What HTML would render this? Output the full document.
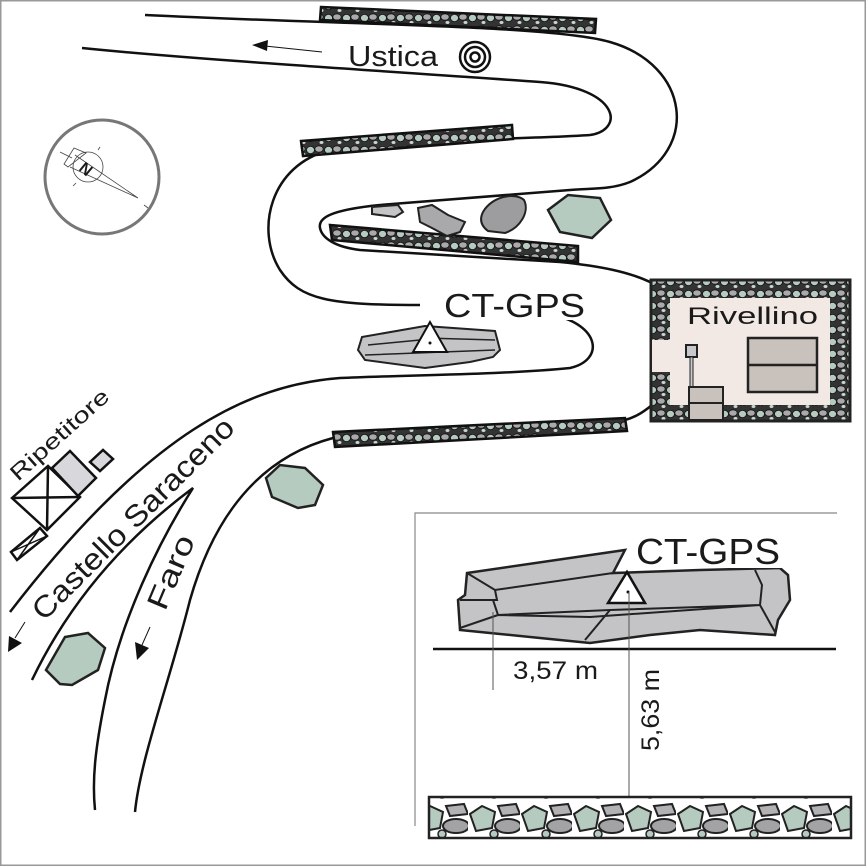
<!DOCTYPE html>
<html><head><meta charset="utf-8"><style>
html,body{margin:0;padding:0;background:#fff}
svg{display:block}
text{font-family:"Liberation Sans",sans-serif;fill:#1a1a1a}
</style></head><body>
<svg width="866" height="866" viewBox="0 0 866 866" xmlns="http://www.w3.org/2000/svg">
<defs>
<pattern id="st" width="18" height="12" patternUnits="userSpaceOnUse">
<rect width="18" height="12" fill="#333"/>
<ellipse cx="4.5" cy="6" rx="4" ry="3.6" fill="#b5cbc0" stroke="#111" stroke-width="0.8"/>
<ellipse cx="13" cy="5" rx="4.2" ry="3.2" fill="#a9a9ab" stroke="#111" stroke-width="0.8"/>
<ellipse cx="15.5" cy="10.5" rx="2" ry="1.5" fill="#c8d8cf"/>
</pattern>
<pattern id="st2" width="52" height="40" patternUnits="userSpaceOnUse">
<rect width="52" height="40" fill="#fff"/>
<polygon points="2,14 14,6 27,12 24,28 8,31" fill="#b5cbc0" stroke="#222" stroke-width="2"/>
<ellipse cx="40" cy="26" rx="13" ry="7" fill="#a3a3a5" stroke="#222" stroke-width="2"/>
<polygon points="30,6 48,4 52,14 34,16" fill="#b2b2b4" stroke="#222" stroke-width="2"/>
<circle cx="26" cy="34" r="4" fill="#b5cbc0" stroke="#222" stroke-width="1.5"/>
</pattern>
</defs>
<rect x="0.5" y="0.5" width="865" height="865" fill="#fff" stroke="#999" stroke-width="2"/>

<!-- roads -->
<g fill="none" stroke="#111" stroke-width="2.5">
<path d="M145,15 C350,25 550,25 610,42 C690,65 700,150 630,182 C610,190 590,188 570,190 L380,205 C330,210 318,218 320,228 C322,238 335,247 360,250 L560,262 C600,266 630,272 652,283"/>
<path d="M82,48 C200,60 400,72 540,82 C620,88 625,130 590,135 C520,140 400,138 330,150 C270,165 255,230 280,270 C300,300 330,305 420,305"/>
<path d="M553,315 C600,325 605,360 570,368 C500,375 400,375 340,378 C250,385 150,430 10,612"/>
<path d="M652,405 C640,415 632,418 625,420"/>
<path d="M333,438 C250,460 210,530 190,600 C170,680 140,760 135,812"/>
<path d="M32,680 C80,580 150,520 193,488 C160,540 120,620 105,700 C95,750 92,780 95,810"/>
</g>

<!-- walls -->
<g stroke="#111" stroke-width="2.5" fill="url(#st)">
<polygon points="321,7 596,19 595,33 320,20"/>
<polygon points="301,141 512,125 513,139 303,156"/>
<polygon points="330,225 578,246 578,262 332,240"/>
<polygon points="333,432 625,418 627,431 335,447"/>
</g>

<!-- rocks -->
<path d="M372,207 L398,205 403,212 395,217 372,214 Z" fill="#c4c4c6" stroke="#222" stroke-width="2"/>
<path d="M418,208 L432,205 448,215 465,222 460,232 447,236 432,228 420,222 Z" fill="#a9a9ab" stroke="#222" stroke-width="2"/>
<path d="M483,212 C492,196 515,192 524,200 C530,212 520,228 505,233 L488,231 C480,225 480,218 483,212Z" fill="#9d9d9f" stroke="#222" stroke-width="2"/>
<polygon points="548,210 568,195 600,198 611,220 592,238 560,232" fill="#b5cbc0" stroke="#222" stroke-width="2.5"/>
<polygon points="266,478 280,465 305,468 323,485 315,505 298,508 272,497" fill="#b5cbc0" stroke="#222" stroke-width="2.5"/>
<polygon points="46,670 65,637 88,633 105,648 98,670 72,685 60,684" fill="#b5cbc0" stroke="#222" stroke-width="2.5"/>

<!-- upper CT-GPS rock -->
<path d="M362,337 L425,326 495,331 500,350 493,357 470,362 425,368 365,360 358,350 Z" fill="#c4c4c6" stroke="#222" stroke-width="2"/>
<path d="M368,345 L420,340 M365,355 L495,350 M425,338 L495,340" stroke="#222" stroke-width="1.5" fill="none"/>
<polygon points="413,352 430,322 447,352" fill="#fff" stroke="#111" stroke-width="2"/>
<circle cx="430" cy="343" r="1.5" fill="#111"/>
<rect x="440" y="288" width="150" height="32" fill="#fff"/>
<text x="444" y="317" font-size="33" textLength="141" lengthAdjust="spacingAndGlyphs">CT-GPS</text>

<!-- Ustica -->
<text x="348" y="66" font-size="29" textLength="90" lengthAdjust="spacingAndGlyphs">Ustica</text>
<circle cx="475" cy="57" r="15" fill="none" stroke="#111" stroke-width="2.5"/>
<circle cx="475" cy="57" r="10" fill="none" stroke="#111" stroke-width="2.5"/>
<circle cx="475" cy="57" r="4.5" fill="none" stroke="#111" stroke-width="2.5"/>
<line x1="322" y1="52" x2="265" y2="46" stroke="#111" stroke-width="1"/>
<polygon points="252,45 268,40 267,51" fill="#111"/>

<!-- compass -->
<circle cx="102" cy="177" r="57" fill="#fff" stroke="#777" stroke-width="3"/>
<g stroke="#444" stroke-width="0.8" fill="none">
<circle cx="88" cy="167" r="15"/>
<polygon points="74,148 86,153 68,167 64,164" />
<path d="M75,155 L138,198 M70,167 L138,198 M60,152 L72,158 M144,205 L148,208 M98,150 L100,147 M76,183 L73,186"/>
</g>
<text x="80" y="176" font-size="16" font-weight="bold" transform="rotate(40 88 170)">N</text>

<!-- Rivellino -->
<rect x="651" y="280" width="199" height="141" fill="url(#st)" stroke="#222" stroke-width="3"/>
<rect x="670" y="298" width="160" height="107" fill="#f3e9e4"/>
<rect x="652" y="340" width="20" height="32" fill="#f3e9e4"/>
<text x="687" y="324" font-size="24" textLength="131" lengthAdjust="spacingAndGlyphs">Rivellino</text>
<rect x="748" y="338" width="69" height="54" fill="#c8c1bc" stroke="#222" stroke-width="2.5"/>
<line x1="748" y1="365" x2="817" y2="365" stroke="#222" stroke-width="2.5"/>
<rect x="686" y="345" width="11" height="12" fill="#c8c8cc" stroke="#222" stroke-width="2"/>
<rect x="690" y="357" width="3" height="30" fill="#c8c8cc" stroke="#222" stroke-width="1"/>
<rect x="689" y="387" width="34" height="33" fill="#c8c1bc" stroke="#222" stroke-width="2"/>
<line x1="689" y1="403" x2="723" y2="403" stroke="#222" stroke-width="2"/>

<!-- Ripetitore -->
<g stroke="#111" stroke-width="2.5">
<polygon points="12,498 48,466 80,497 47,530" fill="#fff"/>
<path d="M12,498 L80,497 M48,466 L47,530" fill="none"/>
<polygon points="52,468 70,451 96,478 78,496" fill="#d8d8dc"/>
<polygon points="90,462 103,450 113,459 100,471" fill="#d8d8dc"/>
<polygon points="11,552 40,528 47,536 17,560" fill="#fff"/>
<path d="M11,552 L47,536 M40,528 L17,560" fill="none" stroke-width="1.5"/>
</g>
<text x="0" y="0" font-size="22" textLength="125" lengthAdjust="spacingAndGlyphs" transform="translate(18,482) rotate(-42)">Ripetitore</text>
<text x="0" y="0" font-size="30" textLength="272" lengthAdjust="spacingAndGlyphs" transform="translate(44,622) rotate(-45)">Castello Saraceno</text>
<text x="0" y="0" font-size="30" textLength="78" lengthAdjust="spacingAndGlyphs" transform="translate(165,612) rotate(-67)">Faro</text>
<line x1="25" y1="622" x2="15" y2="638" stroke="#111" stroke-width="1"/>
<polygon points="8,652 9,636 22,643" fill="#111"/>
<line x1="150" y1="627" x2="142" y2="645" stroke="#111" stroke-width="1"/>
<polygon points="137,660 135,642 149,648" fill="#111"/>

<!-- Inset -->
<path d="M837,513 L415,513 L415,826" fill="none" stroke="#888" stroke-width="1.2"/>
<path d="M467,573 L625,550 L613,573 L700,570 L780,568 L788,575 L790,600 L778,620 L775,635 L700,630 L650,635 L590,643 L540,638 L460,630 L458,600 L465,595 Z" fill="#c4c4c6" stroke="#222" stroke-width="2.5"/>
<g fill="none" stroke="#222" stroke-width="2">
<path d="M467,573 L495,590 L613,573 M495,590 L497,600 L460,600 M493,600 L498,615 L610,610 L760,605 L762,585 L755,570 M498,615 L460,628 M498,615 L590,617 L760,605 L775,632 M610,610 L585,640"/>
</g>
<rect x="632" y="530" width="150" height="38" fill="#fff"/>
<text x="636" y="564" font-size="36" textLength="144" lengthAdjust="spacingAndGlyphs">CT-GPS</text>
<polygon points="608,603 627,572 645,603" fill="#fff" stroke="#111" stroke-width="2.5"/>
<circle cx="628" cy="592" r="1.5" fill="#111"/>
<line x1="433" y1="649" x2="836" y2="649" stroke="#111" stroke-width="2.5"/>
<line x1="493" y1="612" x2="493" y2="690" stroke="#555" stroke-width="1"/>
<line x1="629" y1="592" x2="629" y2="797" stroke="#555" stroke-width="1"/>
<text x="513" y="679" font-size="25" textLength="85" lengthAdjust="spacingAndGlyphs">3,57 m</text>
<text x="0" y="0" font-size="25" textLength="82" lengthAdjust="spacingAndGlyphs" transform="translate(659,751) rotate(-90)">5,63 m</text>
<rect x="429" y="797" width="422" height="41" fill="url(#st2)" stroke="#222" stroke-width="2.5"/>
</svg>
</body></html>
